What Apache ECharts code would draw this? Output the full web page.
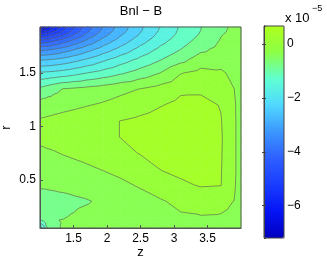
<!DOCTYPE html>
<html>
<head>
<meta charset="utf-8">
<script src="https://cdn.jsdelivr.net/npm/echarts@6/dist/echarts.min.js"></script>
</head>
<body style="margin:0">
<div id="main" style="width:327px;height:262px;"></div>
<script>
// grid nodes (z across, r down from the top) and field values in units of 1e-5
var zs = [1.0, 1.05, 1.12, 1.22, 1.35, 1.5, 1.7, 1.95, 2.2, 2.5, 2.8, 3.1, 3.4, 3.7, 3.9, 4.0];
var rs = [1.93, 1.90, 1.86, 1.80, 1.72, 1.62, 1.50, 1.35, 1.2, 1.05, 0.9, 0.75, 0.6, 0.45, 0.3, 0.15, 0.1, 0.05];
var bnl = [
  [-7.2, -6.49, -6.0, -5.51, -4.98, -4.45, -3.81, -3.16, -2.62, -2.07, -1.57, -1.15, -0.81, -0.48, -0.33, -0.28],
  [-5.96, -5.87, -5.64, -5.30, -4.81, -4.33, -3.72, -3.10, -2.58, -2.04, -1.55, -1.13, -0.80, -0.46, -0.32, -0.27],
  [-5.2, -5.16, -5.03, -4.79, -4.45, -4.03, -3.51, -2.95, -2.46, -1.96, -1.48, -1.09, -0.76, -0.42, -0.31, -0.25],
  [-4.27, -4.24, -4.17, -4.01, -3.78, -3.49, -3.11, -2.63, -2.23, -1.76, -1.33, -0.98, -0.65, -0.37, -0.26, -0.22],
  [-3.3, -3.28, -3.24, -3.16, -3.01, -2.83, -2.55, -2.21, -1.87, -1.46, -1.10, -0.80, -0.48, -0.29, -0.2, -0.21],
  [-2.4, -2.39, -2.37, -2.32, -2.24, -2.11, -1.92, -1.65, -1.38, -1.08, -0.80, -0.51, -0.2, -0.15, -0.14, -0.22],
  [-1.54, -1.54, -1.52, -1.49, -1.43, -1.34, -1.2, -1.04, -0.86, -0.63, -0.39, -0.02, 0.12, 0.06, -0.1, -0.25],
  [-0.72, -0.67, -0.6, -0.5, -0.38, -0.34, -0.28, -0.2, -0.1, 0.01, 0.15, 0.33, 0.33, 0.15, 0.0, -0.22],
  [-0.22, -0.21, -0.19, -0.16, -0.12, -0.08, -0.02, 0.05, 0.14, 0.25, 0.38, 0.5, 0.52, 0.38, 0.05, -0.2],
  [0.05, 0.06, 0.08, 0.11, 0.15, 0.19, 0.25, 0.32, 0.405, 0.48, 0.57, 0.63, 0.62, 0.42, 0.06, -0.2],
  [0.08, 0.09, 0.1, 0.13, 0.16, 0.2, 0.26, 0.33, 0.405, 0.5, 0.6, 0.66, 0.65, 0.44, 0.06, -0.2],
  [-0.07, -0.06, -0.04, -0.02, 0.02, 0.06, 0.12, 0.2, 0.29, 0.42, 0.52, 0.6, 0.6, 0.43, 0.06, -0.2],
  [-0.22, -0.21, -0.2, -0.18, -0.15, -0.11, -0.06, 0.02, 0.1, 0.22, 0.41, 0.5, 0.52, 0.42, 0.06, -0.2],
  [-0.37, -0.37, -0.36, -0.35, -0.34, -0.31, -0.26, -0.17, -0.08, 0.04, 0.17, 0.33, 0.43, 0.41, 0.04, -0.2],
  [-0.5, -0.5, -0.5, -0.49, -0.47, -0.45, -0.42, -0.35, -0.26, -0.15, -0.03, 0.08, 0.14, 0.1, -0.01, -0.2],
  [-0.55, -0.5, -0.45, -0.42, -0.41, -0.38, -0.33, -0.28, -0.22, -0.15, -0.08, -0.04, -0.02, -0.03, -0.1, -0.22],
  [-1.15, -0.95, -0.6, -0.45, -0.38, -0.34, -0.3, -0.25, -0.2, -0.14, -0.09, -0.06, -0.05, -0.06, -0.12, -0.23],
  [-2.0, -1.5, -0.7, -0.47, -0.37, -0.33, -0.29, -0.24, -0.19, -0.13, -0.09, -0.07, -0.06, -0.07, -0.13, -0.24]
];
var levels = [-6.8, -6.4, -6.0, -5.6, -5.2, -4.8, -4.4, -4.0, -3.6, -3.2, -2.8, -2.4, -2.0, -1.6, -1.2, -0.8, -0.4, 0, 0.4];
var vmin = -7.2, vmax = 0.67;

var cmap = ['#0000be', '#0514f5', '#193cff', '#2d5fff', '#3c96ff', '#50d7ff', '#5fffd2', '#8cff46', '#afff1e'];
var font = 'Liberation Sans';

function hex2rgb(h) {
  return [parseInt(h.substr(1, 2), 16), parseInt(h.substr(3, 2), 16), parseInt(h.substr(5, 2), 16)];
}
function colorAt(v) {
  var t = (v - vmin) / (vmax - vmin);
  t = Math.max(0, Math.min(1, t));
  var f = t * (cmap.length - 1), k = Math.min(Math.floor(f), cmap.length - 2), u = f - k;
  var a = hex2rgb(cmap[k]), b = hex2rgb(cmap[k + 1]);
  return 'rgb(' + [0, 1, 2].map(function (c) { return Math.round(a[c] + (b[c] - a[c]) * u); }).join(',') + ')';
}
function fmt(v) { return String(v).replace('-', '\u2212'); }

// one item per grid cell
var cells = [];
for (var j = 0; j < rs.length - 1; j++) {
  for (var i = 0; i < zs.length - 1; i++) {
    cells.push([zs[i], rs[j], i, j]);
  }
}

function triangles(api) {
  var i = api.value(2), j = api.value(3);
  function P(ii, jj) {
    var c = api.coord([zs[ii], rs[jj]]);
    return { x: c[0], y: c[1], v: bnl[jj][ii] };
  }
  var a = P(i, j), b = P(i + 1, j), c = P(i + 1, j + 1), d = P(i, j + 1);
  return [[a, b, c], [a, c, d]];
}

function clip(poly, lev, above) {
  var out = [];
  for (var k = 0; k < poly.length; k++) {
    var p = poly[k], q = poly[(k + 1) % poly.length];
    var pin = above ? p.v >= lev : p.v <= lev;
    var qin = above ? q.v >= lev : q.v <= lev;
    if (pin) out.push(p);
    if (pin !== qin) {
      var t = (lev - p.v) / (q.v - p.v);
      out.push({ x: p.x + (q.x - p.x) * t, y: p.y + (q.y - p.y) * t, v: lev });
    }
  }
  return out;
}

function renderFill(params, api) {
  var kids = [];
  var edges = [-Infinity].concat(levels).concat([Infinity]);
  triangles(api).forEach(function (tri) {
    for (var k = 0; k < edges.length - 1; k++) {
      var poly = clip(clip(tri, edges[k], true), edges[k + 1], false);
      if (poly.length < 3) continue;
      var col = k === 0 ? colorAt(vmin) : colorAt(edges[k]);
      kids.push({
        type: 'polygon',
        shape: { points: poly.map(function (p) { return [p.x, p.y]; }) },
        style: { fill: col, stroke: col, lineWidth: 0.6 }
      });
    }
  });
  return { type: 'group', children: kids };
}

function renderLines(params, api) {
  var kids = [];
  triangles(api).forEach(function (tri) {
    levels.forEach(function (lev) {
      var pts = [];
      for (var k = 0; k < 3; k++) {
        var p = tri[k], q = tri[(k + 1) % 3];
        if ((p.v < lev) !== (q.v < lev)) {
          var t = (lev - p.v) / (q.v - p.v);
          pts.push([p.x + (q.x - p.x) * t, p.y + (q.y - p.y) * t]);
        }
      }
      if (pts.length === 2) {
        kids.push({
          type: 'line',
          shape: { x1: pts[0][0], y1: pts[0][1], x2: pts[1][0], y2: pts[1][1] },
          style: { stroke: '#555555', lineWidth: 0.6 }
        });
      }
    });
  });
  return { type: 'group', children: kids };
}

var myChart = echarts.init(document.getElementById('main'));

var option = {
  animation: false,
  textStyle: { fontFamily: font },
  grid: [
    { left: 40, top: 27, width: 201, height: 201, show: true, borderColor: '#555', borderWidth: 1, z: 10, outerBoundsMode: 'none', containLabel: false },
    { left: 264, top: 26, width: 20, height: 212, show: true, borderColor: '#444', borderWidth: 1, z: 10, outerBoundsMode: 'none', containLabel: false }
  ],
  xAxis: [
    {
      gridIndex: 0, type: 'value', min: 1, max: 4, interval: 0.5, z: 10,
      name: 'z', nameLocation: 'middle', nameGap: 18, nameMoveOverlap: false,
      nameTextStyle: { fontSize: 13, color: '#000', fontFamily: font },
      axisLine: { lineStyle: { color: '#555' } },
      axisTick: { inside: true, length: 3, lineStyle: { color: '#555' } },
      axisLabel: { fontSize: 12, color: '#000', margin: 5, showMinLabel: false, showMaxLabel: false },
      splitLine: { show: false }
    },
    { gridIndex: 1, type: 'value', min: 0, max: 1, show: false }
  ],
  yAxis: [
    {
      gridIndex: 0, type: 'value', min: 0.05, max: 1.93, splitNumber: 4, z: 10,
      name: 'r', nameLocation: 'middle', nameGap: 27, nameRotate: 90, nameMoveOverlap: false,
      nameTextStyle: { fontSize: 13, color: '#000', fontFamily: font },
      axisLine: { lineStyle: { color: '#555' } },
      axisTick: { inside: true, length: 3, lineStyle: { color: '#555' } },
      axisLabel: { fontSize: 12, color: '#000', margin: 4, showMinLabel: false, showMaxLabel: false },
      splitLine: { show: false }
    },
    {
      gridIndex: 1, type: 'value', min: vmin, max: vmax, position: 'right', z: 10,
      axisLine: { show: true, lineStyle: { color: '#444' } },
      axisTick: { inside: true, length: 2, lineStyle: { color: '#444' } },
      axisLabel: { fontSize: 12, color: '#000', margin: 3, formatter: fmt, showMinLabel: false, showMaxLabel: false },
      splitLine: { show: false }
    },
    {
      gridIndex: 1, type: 'value', min: vmin, max: vmax, position: 'left', z: 10,
      axisLine: { show: true, lineStyle: { color: '#444' } },
      axisTick: { inside: true, length: 2, lineStyle: { color: '#444' } },
      axisLabel: { show: false },
      splitLine: { show: false }
    }
  ],
  visualMap: {
    type: 'continuous', min: vmin, max: vmax, seriesIndex: [],
    calculable: false, left: 264, top: 26, itemWidth: 20, itemHeight: 212, padding: 0,
    inRange: { color: cmap }
  },
  graphic: [
    { type: 'text', x: 141, y: 11, style: { text: 'Bnl \u2212 B', fontSize: 13, fontFamily: font, fill: '#000', align: 'center', verticalAlign: 'middle' } },
    { type: 'text', x: 285, y: 18, style: { text: 'x 10', fontSize: 13, fontFamily: font, fill: '#000', align: 'left', verticalAlign: 'middle' } },
    { type: 'text', x: 312, y: 9, style: { text: '\u22125', fontSize: 9, fontFamily: font, fill: '#000', align: 'left', verticalAlign: 'middle' } }
  ],
  series: [
    {
      type: 'custom', coordinateSystem: 'cartesian2d', xAxisIndex: 0, yAxisIndex: 0,
      data: cells, encode: { x: 0, y: 1 }, renderItem: renderFill, silent: true
    },
    {
      type: 'custom', coordinateSystem: 'cartesian2d', xAxisIndex: 0, yAxisIndex: 0,
      data: cells, encode: { x: 0, y: 1 }, renderItem: renderLines, silent: true
    }
  ]
};

myChart.setOption(option);
</script>
</body>
</html>
